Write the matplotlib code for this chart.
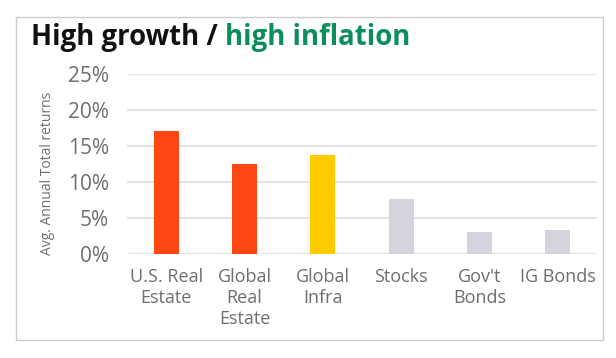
import matplotlib
matplotlib.use("Agg")
import matplotlib.pyplot as plt
from matplotlib.patches import Rectangle

categories = ["U.S. Real\nEstate", "Global\nReal\nEstate", "Global\nInfra", "Stocks", "Gov't\nBonds", "IG Bonds"]
values = [17.1, 12.5, 13.8, 7.7, 3.0, 3.3]
colors = ["#FF4713", "#FF4713", "#FFCC00", "#D4D4DF", "#D4D4DF", "#D4D4DF"]
yticks = [0, 5, 10, 15, 20, 25]
ytick_labels = ["0%", "5%", "10%", "15%", "20%", "25%"]

plt.rcParams['font.family'] = ['Open Sans', 'DejaVu Sans']

fig = plt.figure(figsize=(6.16, 3.58), dpi=100)
fig.patch.set_facecolor("white")

# outer border
fig.patches.append(Rectangle((16/616, 1-340/358), (603-16)/616, (340-17)/358,
                             transform=fig.transFigure, fill=False,
                             edgecolor="#CCCCCC", linewidth=1.0))

ax = fig.add_axes([127/616, 1-254/358, (597-127)/616, (254-74)/358])
x = range(len(categories))
ax.set_axisbelow(True)
for yv in yticks:
    ax.axhline(yv, color="#E4E4E4", linewidth=1.5, zorder=0)
ax.bar(x, values, width=0.32, color=colors, zorder=2)
ax.set_xlim(-0.5, len(categories) - 0.5)
ax.set_ylim(0, 25)
ax.set_yticks(yticks)
ax.set_yticklabels(ytick_labels)
ax.set_xticks(list(x))
ax.set_xticklabels(categories, linespacing=1.22)
for s in ax.spines.values():
    s.set_visible(False)
ax.tick_params(axis="y", length=0, pad=13, labelsize=15, labelcolor="#6E6E6E")
ax.tick_params(axis="x", length=0, pad=10, labelsize=13, labelcolor="#6E6E6E")

fig.text(48/616, 1-173/358, "Avg. Annual Total returns", rotation=90,
         ha="center", va="center", fontsize=10, color="#6E6E6E")

t1 = fig.text(31/616, 1-45/358, "High growth / ", fontsize=19.8, fontweight="bold",
              color="#111111", ha="left", va="baseline")
ax.annotate("high inflation", xy=(1, 0), xycoords=t1, xytext=(0, 0), textcoords="offset points",
            fontsize=19.8, fontweight="bold", color="#0B8E5C", ha="left", va="bottom",
            annotation_clip=False)

fig.savefig("out.png", dpi=100)
